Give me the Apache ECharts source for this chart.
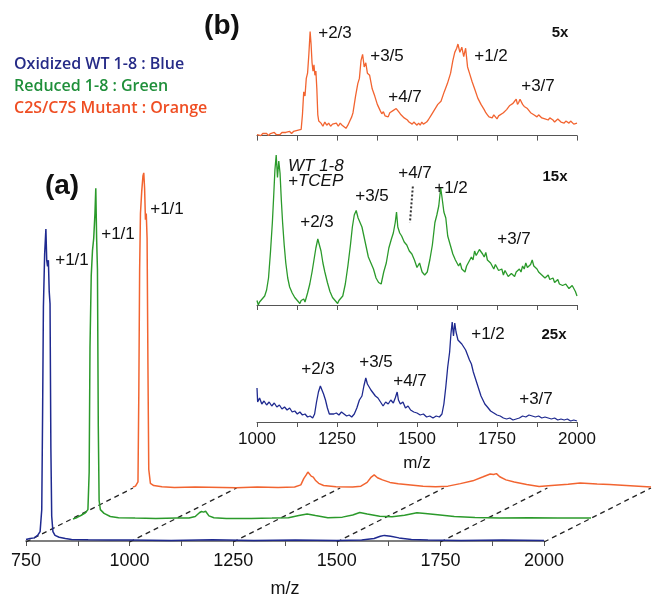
<!DOCTYPE html>
<html>
<head>
<meta charset="utf-8">
<script src="https://cdn.jsdelivr.net/npm/echarts@6/dist/echarts.min.js"></script>
<style>
  html, body { margin: 0; padding: 0; background: #fff; }
  #chart { width: 654px; height: 598px; }
</style>
</head>
<body>
<div id="chart"></div>
<script>
// (a) full spectra, [m/z, relative intensity] (blue peak = 100)
var mainBlue = [[750,0.5],[760,0.8],[770,1],[778,1.8],[784,3],[788,10],[790,40],[792,75],[795,92],[798,100],[800,90],[802,88],[804,90],[806,80],[808,76],[810,30],[812,8],[815,3],[820,1.8],[830,1.2],[845,0.8],[860,0.5],[900,0.4],[950,0.3],[1000,0.3],[1100,0.2],[1200,0.4],[1300,0.2],[1400,0.3],[1500,0.2],[1560,0.3],[1590,0.8],[1605,1.5],[1615,1.8],[1630,1.5],[1650,1],[1680,0.5],[1720,0.3],[1800,0.2],[1900,0.3],[2000,0.2]];
var mainGreen = [[750,0],[760,0.5],[770,1.2],[780,2],[786,3],[789,15],[791,55],[794,78],[797,86],[800,90],[803,98],[805,106],[807,90],[809,80],[811,30],[813,6],[816,3],[825,1.8],[840,0.8],[860,0.4],[900,0.3],[950,0.2],[1000,0.3],[1030,0.3],[1045,0.8],[1055,2],[1060,2.4],[1065,2.2],[1070,2.5],[1078,1],[1090,0.4],[1120,0.2],[1180,0.2],[1230,0.3],[1270,0.4],[1295,1.1],[1315,1.6],[1335,1.1],[1365,0.4],[1400,0.6],[1425,1.3],[1442,2.1],[1460,1.6],[1490,0.9],[1520,0.7],[1550,1.2],[1580,2],[1600,1.8],[1630,1.4],[1670,0.8],[1720,0.5],[1780,0.3],[1850,0.4],[1920,0.3],[2000,0.3]];
var mainOrange = [[750,0.3],[756,0.6],[762,2],[764,30],[766,70],[768,88],[771,95],[774,100],[776,101],[778,96],[780,86],[782,88],[784,80],[786,40],[788,6],[792,1.5],[800,0.8],[820,0.4],[850,0.2],[900,0.3],[1000,0.1],[1050,0.3],[1100,0.2],[1140,0.3],[1155,1],[1162,3],[1168,4.2],[1172,5.1],[1176,4.5],[1180,3.8],[1185,3.5],[1190,2.5],[1198,1.5],[1210,0.8],[1240,0.4],[1280,0.3],[1300,0.6],[1315,1.8],[1325,3.5],[1332,4.2],[1340,3.3],[1352,2.6],[1370,1.8],[1390,1.4],[1420,1],[1450,0.6],[1480,0.4],[1510,0.6],[1540,1.4],[1570,2.3],[1595,3.6],[1612,4.5],[1620,4.3],[1627,4.6],[1635,3.6],[1650,2.6],[1670,1.9],[1700,1.1],[1730,0.5],[1760,0.8],[1800,1.2],[1829,1.6],[1870,1.3],[1900,1.1],[1950,0.7],[2000,0.3]];

// (b) zoomed spectra, each scaled to its own tallest peak = 100
var zoomOrange = [[1000,1],[1006,2],[1012,0],[1018,2],[1024,1],[1030,2],[1036,0],[1042,2],[1048,1],[1054,3],[1060,1],[1066,2],[1072,1],[1078,3],[1084,2],[1090,3],[1096,2],[1102,4],[1108,2],[1114,4],[1120,3],[1126,5],[1132,4],[1138,6],[1142,20],[1146,42],[1150,38],[1154,55],[1158,60],[1162,78],[1166,100],[1169,88],[1172,70],[1175,62],[1178,68],[1181,58],[1184,62],[1187,45],[1190,20],[1193,14],[1200,12],[1206,9],[1212,13],[1218,10],[1224,12],[1230,9],[1236,11],[1242,10],[1248,12],[1254,9],[1260,12],[1266,10],[1272,9],[1278,7],[1284,10],[1290,14],[1296,18],[1300,22],[1308,38],[1315,50],[1320,55],[1325,72],[1330,78],[1335,66],[1340,70],[1345,60],[1352,58],[1360,45],[1368,38],[1376,30],[1385,24],[1390,21],[1395,23],[1400,19],[1405,20],[1410,18],[1415,22],[1420,21],[1425,24],[1430,23],[1435,26],[1440,24],[1445,22],[1450,20],[1455,21],[1460,17],[1465,16],[1470,15],[1475,13],[1480,14],[1485,11],[1490,13],[1495,12],[1500,10],[1505,12],[1510,10],[1515,13],[1520,11],[1525,10],[1530,13],[1535,15],[1545,20],[1555,25],[1565,30],[1575,33],[1585,42],[1595,50],[1605,60],[1612,72],[1618,80],[1624,84],[1628,88],[1634,80],[1640,85],[1646,76],[1652,84],[1658,66],[1664,60],[1672,52],[1680,45],[1690,36],[1700,30],[1710,25],[1715,22],[1720,20],[1725,18],[1730,19],[1735,17],[1740,20],[1745,18],[1750,16],[1755,19],[1760,18],[1770,22],[1780,25],[1790,29],[1800,31],[1805,33],[1810,35],[1814,30],[1818,32],[1822,35],[1826,34],[1830,30],[1835,28],[1840,29],[1845,26],[1850,24],[1855,22],[1860,23],[1865,20],[1870,21],[1875,18],[1880,20],[1885,19],[1890,17],[1895,18],[1900,16],[1905,17],[1910,15],[1915,17],[1920,16],[1925,15],[1930,13],[1935,14],[1940,16],[1945,15],[1950,13],[1955,14],[1960,12],[1965,14],[1970,13],[1975,12],[1980,14],[1985,13],[1990,11],[1995,12],[2000,12]];
var zoomGreen = [[1000,3],[1004,0],[1008,2],[1012,1],[1016,4],[1020,3],[1024,6],[1030,10],[1036,18],[1042,35],[1048,55],[1052,72],[1056,90],[1060,100],[1064,85],[1068,96],[1072,88],[1076,70],[1080,55],[1085,40],[1090,28],[1096,18],[1102,12],[1106,10],[1110,8],[1114,7],[1118,5],[1122,6],[1126,3],[1130,4],[1134,1],[1138,3],[1142,2],[1146,4],[1150,2],[1154,5],[1158,8],[1165,14],[1172,22],[1178,30],[1184,38],[1190,44],[1195,40],[1200,36],[1206,28],[1212,22],[1220,15],[1228,9],[1232,7],[1236,5],[1240,6],[1244,3],[1248,4],[1252,1],[1256,3],[1260,4],[1268,6],[1276,14],[1284,26],[1292,40],[1298,52],[1304,60],[1310,63],[1316,58],[1322,55],[1328,52],[1334,46],[1340,40],[1348,32],[1356,28],[1364,24],[1372,18],[1380,15],[1388,14],[1396,22],[1404,28],[1412,38],[1420,44],[1426,48],[1432,55],[1436,62],[1440,52],[1446,48],[1452,46],[1460,42],[1468,40],[1476,36],[1484,34],[1492,30],[1500,25],[1508,28],[1516,22],[1524,20],[1532,22],[1540,30],[1548,40],[1556,55],[1562,60],[1568,66],[1574,78],[1578,72],[1584,62],[1590,58],[1596,46],[1604,40],[1612,34],[1620,30],[1625,31],[1630,26],[1635,28],[1640,24],[1645,25],[1650,22],[1655,26],[1660,28],[1665,27],[1670,32],[1675,30],[1680,36],[1685,33],[1690,34],[1695,37],[1700,38],[1705,34],[1710,32],[1715,35],[1720,30],[1725,31],[1730,28],[1735,27],[1740,24],[1745,27],[1750,26],[1755,23],[1760,22],[1765,24],[1770,20],[1775,23],[1780,22],[1785,19],[1790,18],[1795,21],[1800,20],[1805,19],[1810,22],[1815,21],[1820,24],[1825,22],[1830,26],[1835,24],[1840,28],[1845,25],[1850,24],[1855,27],[1860,30],[1865,26],[1870,25],[1875,24],[1880,22],[1885,23],[1890,20],[1895,21],[1900,18],[1905,19],[1910,20],[1915,17],[1920,16],[1925,18],[1930,15],[1935,16],[1940,17],[1945,14],[1950,14],[1955,13],[1960,12],[1965,14],[1970,15],[1975,11],[1980,10],[1985,13],[1990,12],[1995,9],[2000,6]];
var zoomBlue = [[1000,34],[1002,20],[1008,24],[1015,18],[1022,21],[1030,17],[1038,20],[1046,16],[1054,19],[1062,15],[1070,17],[1078,13],[1086,15],[1094,12],[1102,14],[1110,10],[1118,11],[1126,8],[1134,10],[1142,7],[1150,8],[1158,5],[1166,6],[1174,4],[1180,8],[1186,20],[1192,30],[1198,36],[1203,32],[1208,28],[1214,22],[1220,14],[1226,8],[1232,6],[1240,8],[1248,9],[1256,7],[1264,10],[1272,8],[1280,6],[1288,7],[1296,5],[1304,8],[1312,14],[1320,22],[1328,26],[1334,36],[1340,44],[1345,38],[1350,40],[1356,32],[1362,34],[1370,26],[1378,24],[1386,20],[1394,16],[1402,20],[1410,18],[1418,22],[1426,19],[1432,24],[1438,30],[1442,22],[1448,18],[1456,20],[1464,14],[1472,16],[1480,12],[1490,10],[1500,9],[1510,7],[1520,8],[1530,5],[1540,6],[1550,4],[1560,6],[1570,5],[1578,8],[1584,18],[1590,35],[1596,55],[1602,70],[1606,88],[1610,100],[1614,86],[1618,99],[1622,90],[1628,82],[1634,84],[1640,78],[1646,80],[1652,72],[1658,70],[1664,62],[1670,58],[1676,50],[1682,44],[1688,38],[1694,32],[1700,26],[1706,22],[1712,18],[1720,15],[1730,11],[1740,9],[1750,7],[1760,6],[1770,4],[1780,3],[1790,4],[1800,2],[1810,3],[1820,4],[1830,6],[1840,5],[1850,7],[1860,6],[1870,5],[1880,6],[1890,4],[1900,5],[1910,4],[1920,3],[1930,4],[1940,2],[1950,3],[1960,2],[1970,3],[1980,1],[1990,2],[2000,1]];

// guide under the +4/7 label of the green trace
var tcepMarker = [[1487,79],[1478,55]];
var mainTicks = [750, 1000, 1250, 1500, 1750, 2000];

var BLUE = '#1f2a90', GREEN = '#2b9a2b', ORANGE = '#f26430';
var labelFont = '17px "Liberation Sans", Arial, sans-serif';

var chart = echarts.init(document.getElementById('chart'));

function axisX(grid, min, max, opts) {
  return Object.assign({
    type: 'value', gridIndex: grid, min: min, max: max, interval: 250,
    axisLine: { lineStyle: { color: '#555', width: 1 } },
    axisTick: { length: 5, lineStyle: { color: '#555' } },
    minorTick: { show: true, splitNumber: 2, length: 5, lineStyle: { color: '#555' } },
    splitLine: { show: false },
    minorSplitLine: { show: false },
    axisLabel: { show: false }
  }, opts || {});
}
function axisY(grid, min, max) {
  return { type: 'value', gridIndex: grid, min: min, max: max, show: false, splitLine: { show: false } };
}
function trace(data, color, x, w) {
  return { type: 'line', data: data, xAxisIndex: x, yAxisIndex: x, showSymbol: false, silent: true,
    lineStyle: { color: color, width: w }, z: 3 };
}
function txt(s, x, y, font, color, align) {
  return { type: 'text', z: 10, style: { text: s, x: x, y: y, font: font || labelFont,
    fill: color || '#111', textAlign: align || 'center', textVerticalAlign: 'middle' } };
}
function box(left, top, width, height) {
  // keep the grid where it is put, even if labels run to the canvas edge
  return { left: left, top: top, width: width, height: height, containLabel: false, outerBoundsMode: 'none' };
}
function plain(v) { return String(v); }

var texts = [
  txt('Oxidized WT 1-8 : Blue', 14, 64, '600 16px "Open Sans", sans-serif', '#262b87', 'left'),
  txt('Reduced 1-8 : Green', 14, 86, '600 16px "Open Sans", sans-serif', '#1f8f3a', 'left'),
  txt('C2S/C7S Mutant : Orange', 14, 108, '600 16px "Open Sans", sans-serif', '#ef4e23', 'left'),
  txt('(a)', 62, 186, 'bold 28px "Liberation Sans", Arial, sans-serif'),
  txt('(b)', 222, 26, 'bold 28px "Liberation Sans", Arial, sans-serif'),
  txt('+1/1', 72, 260), txt('+1/1', 118, 234), txt('+1/1', 167, 209),
  // 5x
  txt('+2/3', 335, 33), txt('+3/5', 387, 56), txt('+4/7', 405, 97), txt('+1/2', 491, 56), txt('+3/7', 538, 86),
  txt('5x', 560, 33, 'bold 15px "Liberation Sans", Arial, sans-serif'),
  // 15x
  txt('WT 1-8', 288, 166, 'italic 17px "Liberation Sans", Arial, sans-serif', '#111', 'left'),
  txt('+TCEP', 288, 181, 'italic 17px "Liberation Sans", Arial, sans-serif', '#111', 'left'),
  txt('+3/5', 372, 196), txt('+2/3', 317, 222), txt('+4/7', 415, 173), txt('+1/2', 451, 188), txt('+3/7', 514, 239),
  txt('15x', 555, 177, 'bold 15px "Liberation Sans", Arial, sans-serif'),
  // 25x
  txt('+2/3', 318, 369), txt('+3/5', 376, 362), txt('+4/7', 410, 381), txt('+1/2', 488, 334), txt('+3/7', 536, 399),
  txt('25x', 554, 335, 'bold 15px "Liberation Sans", Arial, sans-serif')
];

var option = {
  animation: false,
  backgroundColor: '#fff',
  grid: [
    box(26, 200, 518, 342),    // blue, front
    box(73, 178, 518, 342),    // green, middle
    box(133, 147, 518, 342),   // orange, back
    box(257, 22, 320, 124),    // 5x
    box(257, 150, 320, 163),   // 15x
    box(257, 318, 320, 107)    // 25x
  ],
  xAxis: [
    axisX(0, 750, 2000, {
      axisLine: { lineStyle: { color: '#555', width: 1.5 } },
      axisLabel: { show: true, fontSize: 18, color: '#111', margin: 10, formatter: plain,
        fontFamily: '"Liberation Sans", Arial' },
      name: 'm/z', nameLocation: 'middle', nameGap: 38,
      nameTextStyle: { fontSize: 18, color: '#111', fontFamily: '"Liberation Sans", Arial' }
    }),
    axisX(1, 750, 2000, { show: false }),
    axisX(2, 750, 2000, { show: false }),
    axisX(3, 1000, 2000),
    axisX(4, 1000, 2000),
    axisX(5, 1000, 2000, {
      axisLabel: { show: true, fontSize: 17, color: '#111', margin: 6, formatter: plain,
        fontFamily: '"Liberation Sans", Arial' },
      name: 'm/z', nameLocation: 'middle', nameGap: 30,
      nameTextStyle: { fontSize: 17, color: '#111', fontFamily: '"Liberation Sans", Arial' }
    })
  ],
  yAxis: [
    axisY(0, -0.32, 109.3), axisY(1, -0.32, 109.3), axisY(2, -0.32, 109.3),
    axisY(3, -10, 109.2), axisY(4, -5.33, 103.33), axisY(5, -3, 104)
  ],
  series: [
    trace(mainOrange, ORANGE, 2, 1.5),
    trace(mainGreen, GREEN, 1, 1.5),
    trace(mainBlue, BLUE, 0, 1.5),
    trace(zoomOrange, ORANGE, 3, 1.3),
    trace(zoomGreen, GREEN, 4, 1.3),
    trace(zoomBlue, BLUE, 5, 1.3),
    { type: 'line', data: tcepMarker, xAxisIndex: 4, yAxisIndex: 4, showSymbol: false, silent: true,
      lineStyle: { color: '#333', width: 2, type: [2, 2] } }
  ],
  graphic: texts
};
chart.setOption(option);

// dashed depth guides: from each m/z tick on the front axis to the back trace baseline
var dashes = mainTicks.map(function (v) {
  var a = chart.convertToPixel({ xAxisIndex: 0, yAxisIndex: 0 }, [v, -0.32]);
  var b = chart.convertToPixel({ xAxisIndex: 2, yAxisIndex: 2 }, [v, 0]);
  return { type: 'line', z: 1, shape: { x1: a[0], y1: a[1], x2: b[0], y2: b[1] },
    style: { stroke: '#222', lineWidth: 1.3, lineDash: [5, 4] } };
});
chart.setOption({ graphic: texts.concat(dashes) });
</script>
</body>
</html>
